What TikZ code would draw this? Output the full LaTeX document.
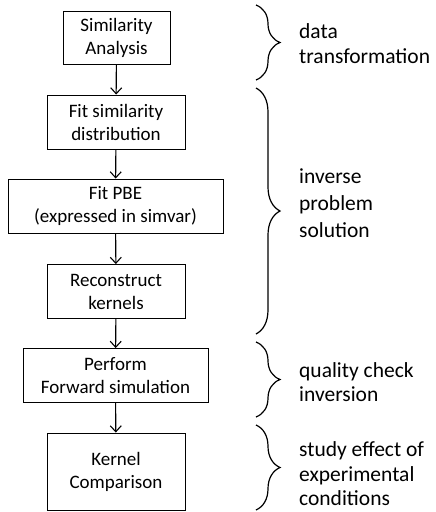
\documentclass[tikz,border=0pt]{standalone}
\usepackage{fontspec}
\setmainfont{Carlito}
\usetikzlibrary{arrows.meta,decorations.pathreplacing}
\begin{document}
\begin{tikzpicture}[x=1pt,y=-1pt,
  stepbox/.style={draw=black,line width=0.9pt,inner sep=0pt,align=center,
    font=\fontsize{19}{23}\selectfont},
  flow/.style={line width=1.1pt,-{Straight Barb[length=6pt,width=11pt,line width=1.1pt]}},
  group/.style={line width=1.2pt,decorate,decoration={brace,amplitude=24pt}},
  note/.style={anchor=base west,inner sep=0pt,font=\fontsize{21.5}{27}\selectfont}]
\useasboundingbox (0,0) rectangle (436,512);
\fill[white] (0,0) rectangle (436,512);

% process steps
\node[stepbox,minimum width=107pt,minimum height=53pt] (b1) at (116.5,38)  {Similarity\\Analysis};
\node[stepbox,minimum width=138pt,minimum height=54pt] (b2) at (116,122)   {Fit similarity\\distribution};
\node[stepbox,minimum width=215pt,minimum height=54pt] (b3) at (115.5,206) {Fit PBE\\(expressed in simvar)};
\node[stepbox,minimum width=138pt,minimum height=54pt] (b4) at (116,291.5) {Reconstruct\\kernels};
\node[stepbox,minimum width=185pt,minimum height=54pt] (b5) at (115.5,375.5) {Perform\\Forward simulation};
\node[stepbox,minimum width=138pt,minimum height=77pt] (b6) at (116,471.5) {Kernel\\Comparison};

% arrows between consecutive steps
\draw[flow] (b1) -- (b2);
\draw[flow] (b2) -- (b3);
\draw[flow] (b3) -- (b4);
\draw[flow] (b4) -- (b5);
\draw[flow] (b5) -- (b6);

% braces grouping the steps
\coordinate (g1a) at (256,5);   \coordinate (g1b) at (256,80);
\coordinate (g2a) at (256,88);  \coordinate (g2b) at (256,334);
\coordinate (g3a) at (256,342); \coordinate (g3b) at (256,417);
\coordinate (g4a) at (256,425); \coordinate (g4b) at (256,510);
\draw[group] (g1a) -- (g1b);
\draw[group] (g2a) -- (g2b);
\draw[group] (g3a) -- (g3b);
\draw[group] (g4a) -- (g4b);

% group labels, one node per line
\node[note] (l1a) at (299,38)  {data};
\node[note] (l1b) at (299,63)  {transformation};
\node[note] (l2a) at (299,183) {inverse};
\node[note] (l2b) at (299,210) {problem};
\node[note] (l2c) at (299,237) {solution};
\node[note] (l3a) at (299,377) {quality check};
\node[note] (l3b) at (299,401) {inversion};
\node[note] (l4a) at (299,456) {study effect of};
\node[note] (l4b) at (299,481) {experimental};
\node[note] (l4c) at (299,505) {conditions};
\end{tikzpicture}
\end{document}
